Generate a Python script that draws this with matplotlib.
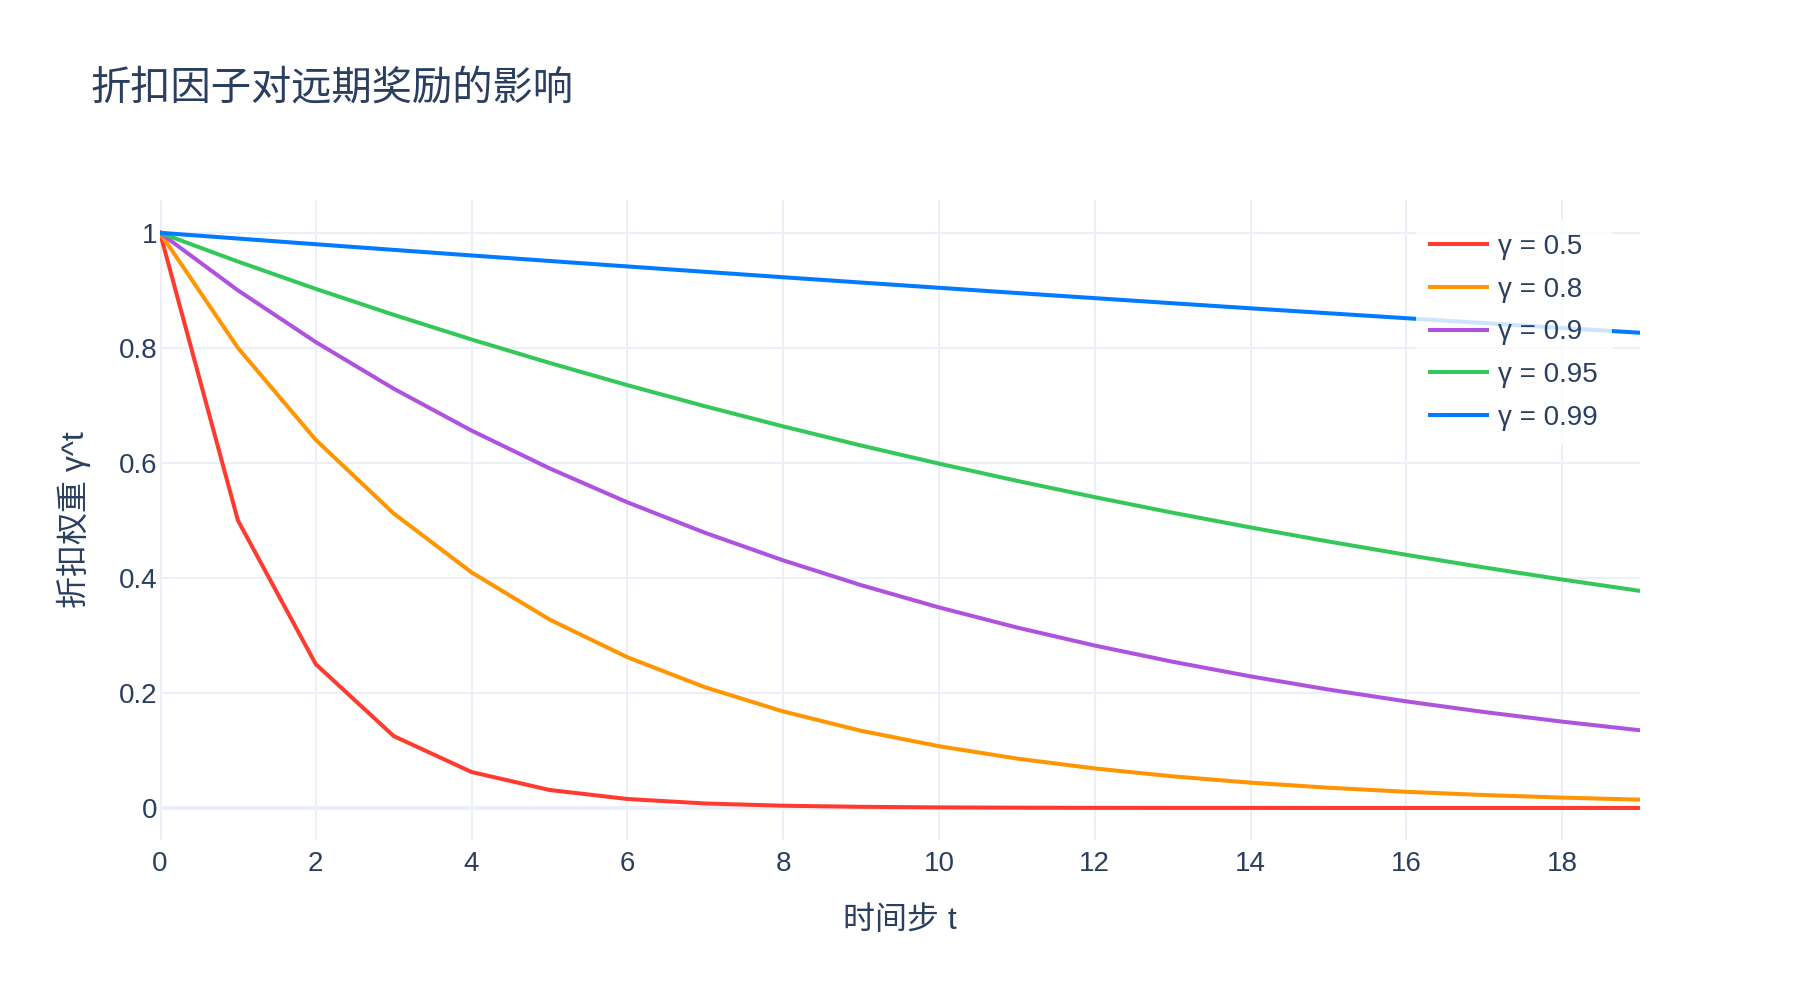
import matplotlib
matplotlib.use("Agg")
from matplotlib import pyplot as plt
from matplotlib.ticker import FuncFormatter

plt.rcParams['font.family'] = ['Liberation Sans', 'Noto Sans CJK SC', 'DejaVu Sans']

# time steps and discount weights gamma^t
steps = list(range(20))
labels = ["γ = 0.5", "γ = 0.8", "γ = 0.9", "γ = 0.95", "γ = 0.99"]
w05 = [1, 0.5, 0.25, 0.125, 0.0625, 0.0313, 0.0156, 0.0078, 0.0039, 0.002,
       0.001, 0.0005, 0.0002, 0.0001, 0.0001, 0, 0, 0, 0, 0]
w08 = [1, 0.8, 0.64, 0.512, 0.4096, 0.3277, 0.2621, 0.2097, 0.1678, 0.1342,
       0.1074, 0.0859, 0.0687, 0.055, 0.044, 0.0352, 0.0281, 0.0225, 0.018, 0.0144]
w09 = [1, 0.9, 0.81, 0.729, 0.6561, 0.5905, 0.5314, 0.4783, 0.4305, 0.3874,
       0.3487, 0.3138, 0.2824, 0.2542, 0.2288, 0.2059, 0.1853, 0.1668, 0.1501, 0.1351]
w095 = [1, 0.95, 0.9025, 0.8574, 0.8145, 0.7738, 0.7351, 0.6983, 0.6634, 0.6302,
        0.5987, 0.5688, 0.5404, 0.5133, 0.4877, 0.4633, 0.4401, 0.4181, 0.3972, 0.3774]
w099 = [1, 0.99, 0.9801, 0.9703, 0.9606, 0.951, 0.9415, 0.9321, 0.9227, 0.9135,
        0.9044, 0.8953, 0.8864, 0.8775, 0.8687, 0.8601, 0.8515, 0.8429, 0.8345, 0.8262]
series = [w05, w08, w09, w095, w099]
colors = ["#FF3B30", "#FF9500", "#AF52DE", "#34C759", "#007AFF"]

textColor = "#2a3f5f"
gridColor = "#EBF0F8"

fig = plt.figure(figsize=(18, 10), dpi=100)
ax = fig.add_axes([160 / 1800, 160 / 1000, 1480 / 1800, 640 / 1000])

for vals, lab, col in zip(series, labels, colors):
    ax.plot(steps, vals, color=col, lw=2.9, label=lab, zorder=3,
            solid_joinstyle="round")

ax.set_xlim(0, 19)
ax.set_ylim(-0.0557, 1.057)
ax.set_xticks(range(0, 19, 2))
ax.set_yticks([0, 0.2, 0.4, 0.6, 0.8, 1])
ax.yaxis.set_major_formatter(FuncFormatter(lambda v, p: "%g" % v))

ax.grid(True, color=gridColor, lw=1.4, zorder=0)
ax.axhline(0, color=gridColor, lw=2.9, zorder=1)
ax.axvline(0, color=gridColor, lw=2.9, zorder=1)
for s in ax.spines.values():
    s.set_visible(False)
ax.tick_params(length=0, labelsize=20, colors=textColor)
ax.tick_params(axis="y", pad=2)
ax.tick_params(axis="x", pad=8)

ax.set_xlabel("时间步 t", fontsize=23, color=textColor, labelpad=21)
ax.set_ylabel("折扣权重 γ^t", fontsize=23, color=textColor, labelpad=20)
fig.text(90 / 1800, 1 - 89 / 1000, "折扣因子对远期奖励的影响", fontsize=29,
         color=textColor, va="center", ha="left")

leg = ax.legend(loc="upper left", bbox_to_anchor=((1419 - 160) / 1480, 0.964),
                frameon=True, fontsize=20, handlelength=2.05, labelspacing=0.6,
                borderaxespad=0, borderpad=0.4, handletextpad=0.4)
leg.get_frame().set_facecolor((1, 1, 1, 0.8))
leg.get_frame().set_edgecolor("none")
leg.get_frame().set_boxstyle("square", pad=0.1)
for t in leg.get_texts():
    t.set_color(textColor)

plt.savefig("out.png", dpi=100)
